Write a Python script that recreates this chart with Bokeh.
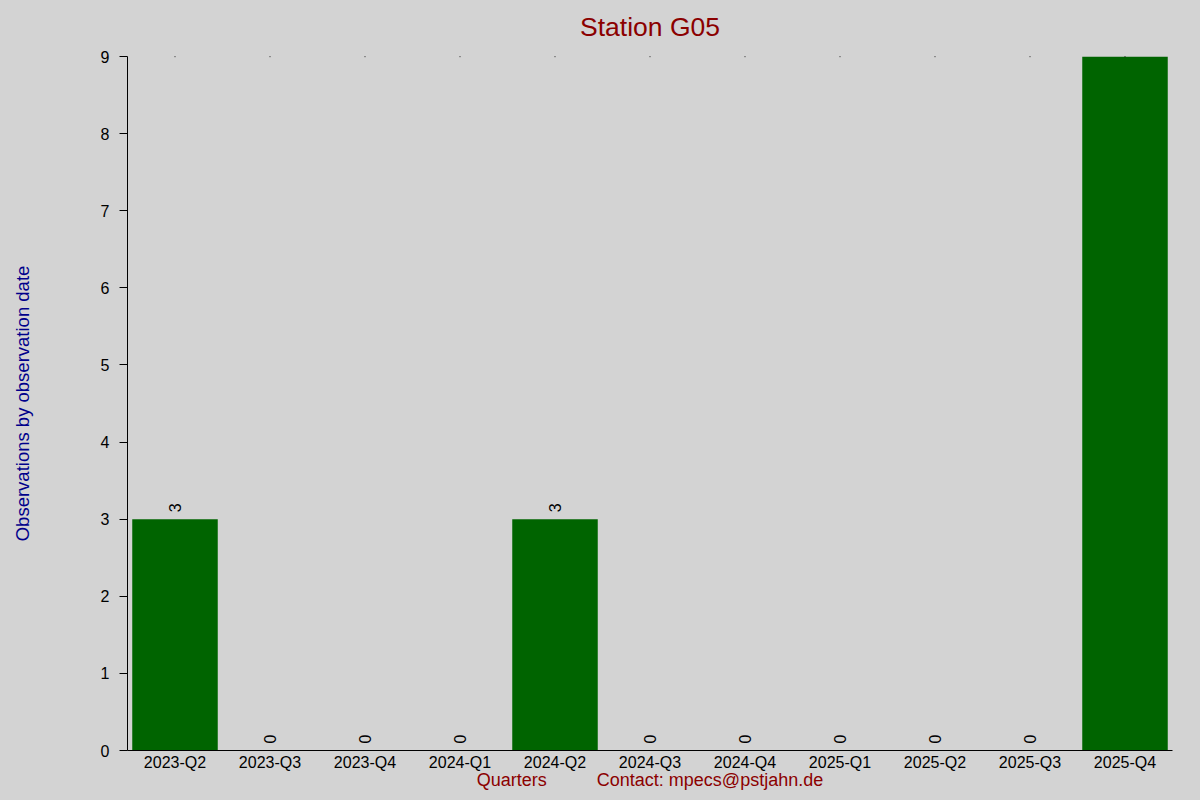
from bokeh.plotting import figure
from bokeh.models import ColumnDataSource, Range1d, FixedTicker, CategoricalAxis
from bokeh.embed import file_html
from bokeh.resources import INLINE
from bokeh.core.properties import value

quarters = ["2023-Q2", "2023-Q3", "2023-Q4", "2024-Q1", "2024-Q2", "2024-Q3",
            "2024-Q4", "2025-Q1", "2025-Q2", "2025-Q3", "2025-Q4"]
counts = [3, 0, 0, 0, 3, 0, 0, 0, 0, 0, 9]
y_ticks = [0, 1, 2, 3, 4, 5, 6, 7, 8, 9]
y_max = 9

title_text = "Station G05"
y_label = "Observations by observation date"
x_label = "Quarters" + "\u00a0" * 10 + "Contact: mpecs@pstjahn.de"

FONT = "Liberation Sans"
BG = "#d3d3d3"

src = ColumnDataSource(dict(q=quarters, c=counts, lbl=[str(v) for v in counts],
                            top=[y_max] * len(quarters)))

p = figure(x_range=quarters, y_range=Range1d(0, y_max),
           width=1184, height=784, output_backend="svg", toolbar_location=None,
           min_border_left=118, min_border_right=20, min_border_top=48, min_border_bottom=0)

p.background_fill_color = BG
p.border_fill_color = BG
p.outline_line_color = None
p.grid.visible = False

p.vbar(x="q", top="c", width=0.9, source=src, fill_color="#006400", line_color=None)
p.text(x="q", y="c", text="lbl", source=src, angle=1.5708, text_align="left",
       text_baseline="middle", y_offset=-7, text_font=value(FONT),
       text_font_size="16px", text_color="black")
p.scatter(x="q", y="top", source=src, marker="circle", size=1.5,
          fill_color="black", line_color=None)

ya = p.left[0]
ya.ticker = FixedTicker(ticks=y_ticks)
ya.axis_label = y_label
ya.axis_label_text_font = FONT
ya.axis_label_text_font_size = "18.5px"
ya.axis_label_text_font_style = "normal"
ya.axis_label_text_color = "#00008b"
ya.axis_label_standoff = 65
ya.major_label_text_font = FONT
ya.major_label_text_font_size = "16px"
ya.major_label_text_color = "black"
ya.major_label_standoff = 10
ya.major_tick_out = 8
ya.major_tick_in = 0
ya.minor_tick_line_color = None
ya.axis_line_color = "black"

xa = p.below[0]
xa.axis_label = x_label
xa.axis_label_text_font = FONT
xa.axis_label_text_font_size = "18px"
xa.axis_label_text_font_style = "normal"
xa.axis_label_text_color = "#8b0000"
xa.axis_label_standoff = -4
xa.major_label_text_font = FONT
xa.major_label_text_font_size = "16px"
xa.major_label_text_color = "black"
xa.major_label_standoff = 3
xa.major_tick_line_color = None
xa.major_tick_out = 0
xa.major_tick_in = 0
xa.axis_line_color = "black"

# title carried by an invisible axis above the frame
top_axis = CategoricalAxis(axis_label=title_text)
top_axis.axis_label_text_font = FONT
top_axis.axis_label_text_font_size = "26.5px"
top_axis.axis_label_text_font_style = "normal"
top_axis.axis_label_text_color = "#8b0000"
top_axis.axis_label_standoff = 15
top_axis.axis_line_color = None
top_axis.major_tick_line_color = None
top_axis.minor_tick_line_color = None
top_axis.major_tick_out = 0
top_axis.major_tick_in = 0
top_axis.major_label_text_font_size = "0px"
top_axis.major_label_text_alpha = 0
top_axis.major_label_standoff = 0
p.add_layout(top_axis, "above")

html = file_html(p, INLINE)
html = html.replace("<body>", '<body style="margin:8px;background:%s">' % BG)
open("out.html", "w").write(html)
